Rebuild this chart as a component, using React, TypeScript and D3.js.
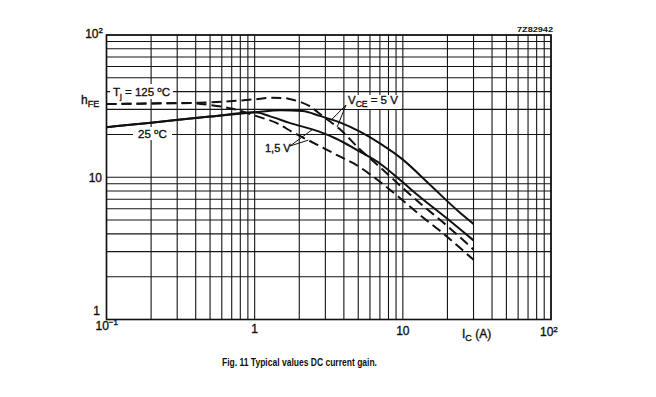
import React from "react";
import * as d3 from "d3";

type Pt = [number, number];

// Axis domains (Ic in A, hFE)
const X_DOMAIN: [number, number] = [0.1, 100];
const Y_DOMAIN: [number, number] = [1, 100];
const xDecades = [0.1, 1, 10];
const yDecades = [1, 10];
const minorSteps = [1, 2, 3, 4, 5, 6, 7, 8, 9];

// Tick labels
const xTickValues = [0.1, 1, 10, 100];
const xTickBase = ["10", "1", "10", "10"];
const xTickSup = ["\u22121", "", "", "2"];
const yTickValues = [100, 10, 1];
const yTickBase = ["10", "10", "1"];
const yTickSup = ["2", "", ""];

// Series: [Ic (A), hFE]
const tj25_vce5: Pt[] = [
  [0.1, 22.5], [0.2, 24.2], [0.5, 26.7], [1, 28.6], [1.5, 29.6], [2.1, 29.2],
  [2.75, 27.0], [3.75, 24.3], [5.1, 21.0], [7, 17.3], [10, 13.3], [15, 9.0],
  [24, 5.7], [30, 4.7],
];
const tj25_vce15: Pt[] = [
  [0.1, 22.5], [0.2, 24.2], [0.5, 26.7], [1, 28.6], [1.26, 26.9], [1.72, 24.1],
  [2.7, 21.0], [3.5, 18.8], [5.1, 15.2], [7, 12.5], [9.55, 9.6], [13, 7.3],
  [19.7, 5.17], [30, 3.6],
];
const tj125_vce5: Pt[] = [
  [0.1, 32.7], [0.2, 33.0], [0.43, 33.4], [0.71, 34.3], [1.0, 35.3], [1.3, 36.2],
  [1.55, 36.1], [1.75, 35.3], [2.35, 31.6], [2.88, 26.9], [3.75, 21.8], [5.1, 15.8],
  [7, 11.8], [10, 8.4], [13, 6.6], [19.7, 4.6], [30, 3.1],
];
const tj125_vce15: Pt[] = [
  [0.1, 32.7], [0.2, 33.0], [0.35, 33.3], [0.5, 32.2], [0.71, 30.3], [1.03, 26.9],
  [1.4, 24.1], [1.81, 20.7], [2.65, 16.9], [3.75, 14.0], [4.6, 12.6], [7, 9.3],
  [9.55, 7.15], [13, 5.45], [17.8, 4.2], [30, 2.63],
];

const FONT = "'Liberation Sans', Arial, Helvetica, sans-serif";

function at(s: Pt[], v: number): number {
  const lv = Math.log10(v);
  for (let i = 0; i < s.length - 1; i++) {
    if (v >= s[i][0] && v <= s[i + 1][0]) {
      const a = Math.log10(s[i][0]);
      const b = Math.log10(s[i + 1][0]);
      const t = (lv - a) / (b - a);
      const ya = Math.log10(s[i][1]);
      const yb = Math.log10(s[i + 1][1]);
      return Math.pow(10, ya + t * (yb - ya));
    }
  }
  return s[s.length - 1][1];
}

export default function App() {
  const left = 106.5, right = 551, top = 35, bottom = 319.5;
  const x = d3.scaleLog().domain(X_DOMAIN).range([left, right]);
  const y = d3.scaleLog().domain(Y_DOMAIN).range([bottom, top]);
  const gridX = xDecades.flatMap((d) => minorSteps.map((k) => d * k)).concat([X_DOMAIN[1]]);
  const gridY = yDecades.flatMap((d) => minorSteps.map((k) => d * k)).concat([Y_DOMAIN[1]]);
  const line = d3.line<Pt>().x((d) => x(d[0])).y((d) => y(d[1])).curve(d3.curveMonotoneX);

  const series = [
    { data: tj25_vce5, dash: undefined },
    { data: tj25_vce15, dash: undefined },
    { data: tj125_vce5, dash: "10 5" },
    { data: tj125_vce15, dash: "10 5" },
  ];

  const xBase = [329.5, 333, 335, 336];

  const vceStart: Pt = [346, 105];
  const vceEnds: Pt[] = [
    [x(3.3), y(at(tj25_vce5, 3.3))],
    [x(3.6), y(at(tj125_vce5, 3.6))],
  ];
  const v15Start: Pt = [290, 146];
  const v15Ends: Pt[] = [
    [x(2.45), y(at(tj25_vce15, 2.45))],
    [x(2.3), y(at(tj125_vce15, 2.3))],
  ];

  const thick = { stroke: "#111", strokeWidth: 0.35 };

  return (
    <svg
      width={656}
      height={397}
      viewBox="0 0 656 397"
      style={{ position: "absolute", left: 0, top: 0, background: "#fff" }}
      fontFamily={FONT}
    >
      <rect x={0} y={0} width={656} height={397} fill="#fff" />
      {/* grid */}
      <g stroke="#151515" strokeWidth={1.1}>
        {gridX.map((v, i) => (
          <line key={"gx" + i} x1={x(v)} x2={x(v)} y1={top} y2={bottom} />
        ))}
        {gridY.map((v, i) => (
          <line key={"gy" + i} x1={left} x2={right} y1={y(v)} y2={y(v)} />
        ))}
      </g>
      <rect x={left} y={top} width={right - left} height={bottom - top} fill="none" stroke="#111" strokeWidth={1.6} />

      {/* label backgrounds */}
      <rect x={110} y={84} width={63} height={15} fill="#fff" />
      <rect x={133} y={127} width={39} height={13} fill="#fff" />
      <rect x={345} y={95} width={56} height={14} fill="#fff" />
      <rect x={263} y={140} width={29} height={14} fill="#fff" />

      {/* curves */}
      {series.map((s, i) => (
        <path
          key={"s" + i}
          d={line(s.data) || ""}
          fill="none"
          stroke="#111"
          strokeWidth={2}
          strokeDasharray={s.dash}
        />
      ))}

      {/* leader lines */}
      <g stroke="#111" strokeWidth={1}>
        {vceEnds.map((e, i) => (
          <line key={"lv" + i} x1={vceStart[0]} y1={vceStart[1]} x2={e[0]} y2={e[1]} />
        ))}
        {v15Ends.map((e, i) => (
          <line key={"l15" + i} x1={v15Start[0]} y1={v15Start[1]} x2={e[0]} y2={e[1]} />
        ))}
      </g>

      {/* annotations */}
      <g fill="#111" fontSize={11.5} {...thick}>
        <text x={113} y={96}>
          T<tspan fontSize={8} dy={3}>j</tspan>
          <tspan dy={-3}> = 125 </tspan>
          <tspan fontSize={8} dy={-4}>o</tspan>
          <tspan dy={4}>C</tspan>
        </text>
        <text x={138} y={138}>
          25 <tspan fontSize={8} dy={-4}>o</tspan>
          <tspan dy={4}>C</tspan>
        </text>
        <text x={348} y={104}>
          V<tspan fontSize={8.5} dy={3}>CE</tspan>
          <tspan dy={-3}> = 5 V</tspan>
        </text>
        <text x={265} y={152} fontSize={11}>1,5 V</text>
      </g>

      {/* y ticks */}
      <g fill="#111" fontSize={12} {...thick}>
        {yTickValues.map((v, i) => {
          const base = v === 100 ? y(v) + 3 : v === 10 ? y(v) + 4.5 : y(v) - 5;
          const xe = v === 100 ? 103 : v === 10 ? 102 : 100;
          return (
            <text key={"yt" + i} x={xe} y={base} textAnchor="end">
              {yTickBase[i]}
              {yTickSup[i] ? (
                <tspan fontSize={8} dy={-5}>{yTickSup[i]}</tspan>
              ) : null}
            </text>
          );
        })}
        <text x={81} y={104}>
          h<tspan fontSize={9} dy={2.5}>FE</tspan>
        </text>
      </g>

      {/* x ticks */}
      <g fill="#111" fontSize={12} {...thick}>
        {xTickValues.map((v, i) => {
          const hasSup = !!xTickSup[i];
          const cx = hasSup ? x(v) - 11 : x(v);
          return (
            <text
              key={"xt" + i}
              x={cx}
              y={xBase[i]}
              textAnchor={hasSup ? "start" : "middle"}
            >
              {xTickBase[i]}
              {hasSup ? <tspan fontSize={8} dy={-4.5}>{xTickSup[i]}</tspan> : null}
            </text>
          );
        })}
        <text x={462} y={338}>
          I<tspan fontSize={9} dy={2.5}>C</tspan>
          <tspan dy={-2.5}> (A)</tspan>
        </text>
      </g>

      <text x={553} y={32} fontSize={7} fontWeight="bold" textAnchor="end" fill="#111" textLength={36} lengthAdjust="spacingAndGlyphs">
        7Z82942
      </text>

      <text x={222} y={366} fontSize={10} fontWeight="bold" fill="#111" textLength={155} lengthAdjust="spacingAndGlyphs">
        Fig. 11  Typical values DC current gain.
      </text>
    </svg>
  );
}
